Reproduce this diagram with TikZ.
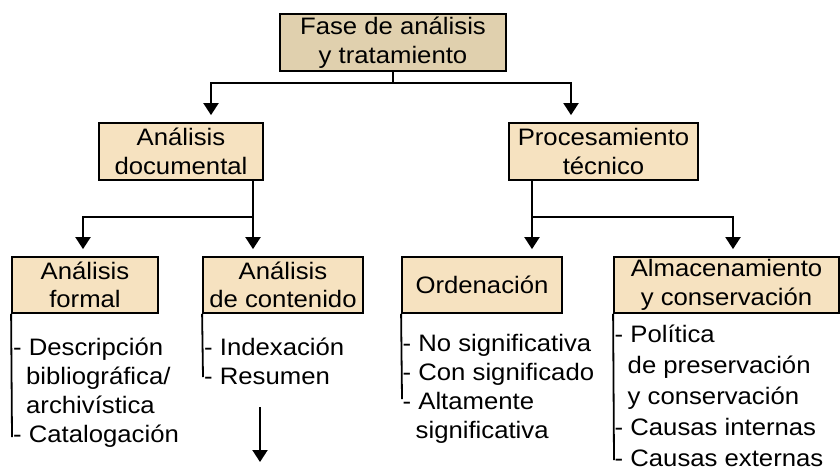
\documentclass[tikz,border=0pt]{standalone}
\usepackage{fontspec}
\setmainfont{Liberation Sans}[FakeStretch = 1.08]
\usepackage{tikz}
\usetikzlibrary{positioning}
\usetikzlibrary{arrows.meta}
\definecolor{phase_tan}{RGB}{224,208,174}
\definecolor{step_tan}{RGB}{246,226,192}
\newcommand{\firstline}{\rule{0pt}{22pt}}
\newcommand{\contline}{\hspace*{13pt}}
\tikzstyle{diagram_text} = [font = \fontsize{23.8}{28.5}\selectfont]
\tikzstyle{phase_box} = [diagram_text, draw, line width = 2pt, fill = phase_tan, inner sep = 0, minimum height = 57, align = center]
\tikzstyle{step_box} = [diagram_text, draw, line width = 1.8pt, fill = step_tan, inner sep = 0, minimum height = 57, align = center]
\tikzstyle{sub_box} = [step_box, minimum height = 56]
\tikzstyle{item_list} = [diagram_text, font = \fontsize{23.8}{29}\selectfont, inner sep = 0, anchor = north west, align = left]
\tikzstyle{flow_line} = [line width = 2pt]
\tikzstyle{flow_arrow} = [flow_line, -{Triangle[width = 15pt, length = 12pt]}, shorten > = 7pt]
\tikzstyle{bracket_line} = [line width = 1.8pt]

\begin{document}
\begin{tikzpicture}[x = 1pt, y = -1pt]
        \useasboundingbox (0,0) rectangle (840,472);
        % boxes
        \node (fase) [style = {phase_box}, minimum width = 226] at (393,42.5) {Fase de análisis\\y tratamiento};
        \node (analisis_doc) [style = {step_box}, minimum width = 164] at (181,151.5) {Análisis\\documental};
        \node (procesamiento) [style = {step_box}, minimum width = 189] at (603.5,151.5) {Procesamiento\\técnico};
        \node (analisis_formal) [style = {sub_box}, minimum width = 146] at (85,285) {Análisis\\formal};
        \node (analisis_cont) [style = {sub_box}, minimum width = 160] at (283,285) {Análisis\\de contenido};
        \node (ordenacion) [style = {sub_box}, minimum width = 160] at (482,285) {Ordenación};
        \node (almacen) [style = {sub_box}, minimum width = 225] at (726.5,285) {Almacenamiento\\y conservación};
        % lists
        \node (formal_list) [style = {item_list}] at (13,333) {\firstline- Descripción\\\contline bibliográfica/\\\contline archivística\\- Catalogación};
        \node (cont_list) [style = {item_list}] at (204,333) {\firstline- Indexación\\- Resumen};
        \node (orden_list) [style = {item_list}] at (402.5,329) {\firstline- No significativa\\- Con significado\\- Altamente\\\contline significativa};
        \node (almacen_list) [style = {item_list}, font = \fontsize{23.8}{31}\selectfont] at (614.5,320) {\firstline- Política\\\contline de preservación\\\contline y conservación\\- Causas internas\\- Causas externas};
        % connectors
        \draw[flow_line] (fase.south) -- ++(0,11) coordinate (fase_split);
        \coordinate (doc_in) at ([xshift = 30pt]analisis_doc.north);
        \coordinate (proc_in) at ([xshift = -32.5pt]procesamiento.north);
        \draw[flow_arrow] (fase_split) -| (doc_in);
        \draw[flow_arrow] (fase_split) -| (proc_in);
        \draw[flow_line] ([xshift = 72pt]analisis_doc.south) -- ++(0,36) coordinate (doc_split);
        \coordinate (formal_in) at ([xshift = -2pt]analisis_formal.north);
        \coordinate (cont_in) at ([xshift = -30pt]analisis_cont.north);
        \draw[flow_arrow] (doc_split) -| (formal_in);
        \draw[flow_arrow] (doc_split) -| (cont_in);
        \draw[flow_line] ([xshift = -71.5pt]procesamiento.south) -- ++(0,36) coordinate (proc_split);
        \coordinate (orden_in) at ([xshift = 50pt]ordenacion.north);
        \coordinate (almacen_in) at ([xshift = 6.5pt]almacen.north);
        \draw[flow_arrow] (proc_split) -| (orden_in);
        \draw[flow_arrow] (proc_split) -| (almacen_in);
        % brackets
        \coordinate (formal_end) at (12,437);
        \coordinate (cont_end) at (203,377);
        \coordinate (orden_end) at (402,399);
        \coordinate (almacen_end) at (614,460);
        \draw[bracket_line] (analisis_formal.south west) -- (formal_end);
        \draw[bracket_line] (analisis_cont.south west) -- (cont_end);
        \draw[bracket_line] (ordenacion.south west) -- (orden_end);
        \draw[bracket_line] (almacen.south west) -- (almacen_end);
        % next phase
        \coordinate (resumen_out) at (260,407);
        \coordinate (next_phase) at (260,462);
        \draw[flow_arrow, shorten > = 0pt] (resumen_out) -- (next_phase);
    \end{tikzpicture}
\end{document}
